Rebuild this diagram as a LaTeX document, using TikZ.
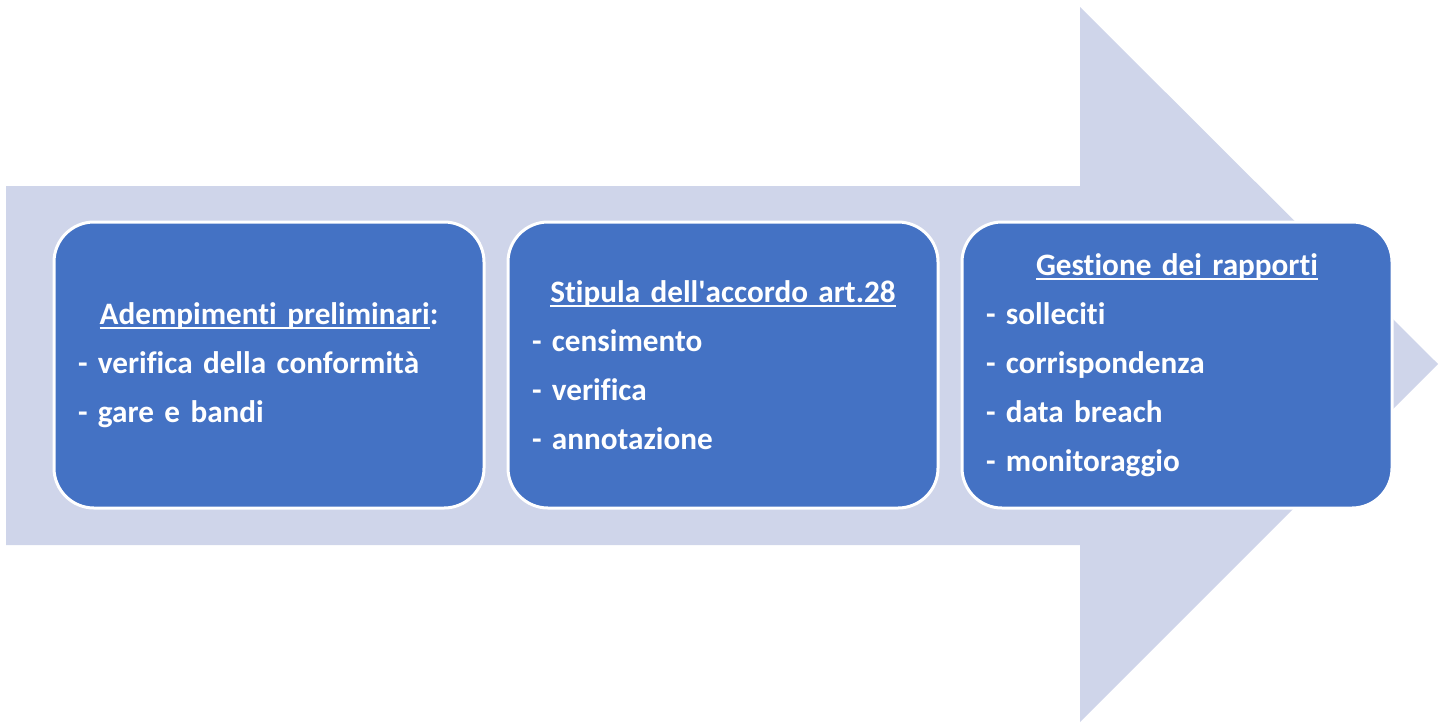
\documentclass[tikz,border=0pt]{standalone}
\usepackage{fontspec}
\setmainfont{Carlito}[Ligatures={ResetAll,NoCommon}]
\usetikzlibrary{positioning}
\definecolor{arrowfill}{HTML}{CFD5EA}
\definecolor{boxfill}{HTML}{4472C4}
\newcommand{\ulin}[1]{\setbox0\hbox{#1}\rlap{\rule[-3.5pt]{\wd0}{1.5pt}}\box0}
\tikzset{
  stepbox/.style={draw=white, line width=2.25pt, fill=boxfill, rounded corners=30pt,
    minimum width=322.5pt, minimum height=214.5pt, text width=286.5pt,
    inner sep=0pt, outer sep=0pt, text=white,
    font=\bfseries\fontsize{23.4}{36.75}\selectfont}
}
\begin{document}
\begin{tikzpicture}[x=0.75pt, y=-0.75pt]
\useasboundingbox (0,0) rectangle (1445,722);
% big arrow behind
\fill[arrowfill] (6,186) -- (1080,186) -- (1080,7) -- (1438,364) -- (1080,722) -- (1080,545) -- (6,545) -- cycle;
% the three phases
\node[stepbox] (prelim) at (269,365) {\centering\ulin{Adempimenti preliminari}:\par
  \raggedright - verifica della conformità\par
  - gare e bandi\par};
\node[stepbox] (stipula) [right=18pt of prelim] {\centering\ulin{Stipula dell\textquotesingle accordo art.28}\par
  \raggedright - censimento\par
  - verifica\par
  - annotazione\par};
\node[stepbox] (gestione) [right=18pt of stipula] {\centering\ulin{Gestione dei rapporti}\par
  \raggedright - solleciti\par
  - corrispondenza\par
  - data breach\par
  - monitoraggio\par};
\end{tikzpicture}
\end{document}
